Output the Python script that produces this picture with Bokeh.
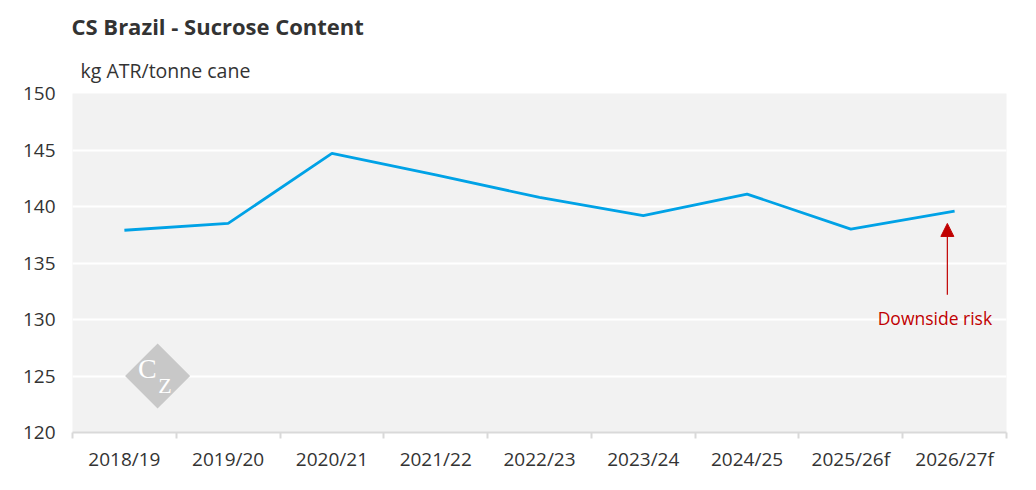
import math
from bokeh.plotting import figure
from bokeh.models import (FactorRange, Range1d, LinearAxis, FixedTicker, Title,
                          Arrow, NormalHead, Label, ColumnDataSource)
from bokeh.embed import file_html
from bokeh.resources import INLINE

categories = ["2018/19", "2019/20", "2020/21", "2021/22", "2022/23",
              "2023/24", "2024/25", "2025/26f", "2026/27f"]
atr_values = [137.9, 138.5, 144.7, 142.8, 140.8, 139.2, 141.1, 138.0, 139.6]
y_ticks = [120, 125, 130, 135, 140, 145, 150]

TEXT = "#333333"
FONT = "Open Sans"

p = figure(width=1020, height=474, x_range=FactorRange(*categories, range_padding=0),
           y_range=Range1d(120, 150), output_backend="svg", toolbar_location=None,
           x_axis_location=None, title=None,
           min_border_left=72, min_border_right=14, min_border_top=93, min_border_bottom=42)
p.background_fill_color = "#f2f2f2"
p.border_fill_color = "white"
p.outline_line_color = None

# y axis
p.yaxis.ticker = FixedTicker(ticks=y_ticks)
p.yaxis.axis_line_color = None
p.yaxis.major_tick_line_color = None
p.yaxis.minor_tick_line_color = None
p.yaxis.major_tick_out = 0
p.yaxis.major_tick_in = 0
p.yaxis.major_label_standoff = 17
p.yaxis.major_label_text_font = FONT
p.yaxis.major_label_text_font_size = "19px"
p.yaxis.major_label_text_color = TEXT

p.xgrid.grid_line_color = None
p.ygrid.grid_line_color = "white"
p.ygrid.grid_line_width = 2

# x axis: labels at category centres, ticks at category boundaries
n = len(categories)
xaxis = LinearAxis(ticker=FixedTicker(ticks=[i + 0.5 for i in range(n)],
                                      minor_ticks=list(range(n + 1))),
                   major_label_overrides={i + 0.5: c for i, c in enumerate(categories)},
                   axis_line_color="#d9d9d9", axis_line_width=2,
                   major_tick_line_color=None, major_tick_out=0, major_tick_in=0,
                   minor_tick_line_color="#d9d9d9", minor_tick_line_width=2,
                   minor_tick_out=6, minor_tick_in=0,
                   major_label_standoff=7,
                   major_label_text_font=FONT, major_label_text_font_size="19px",
                   major_label_text_color=TEXT)
p.add_layout(xaxis, "below")

# titles
p.add_layout(Title(text="kg ATR/tonne cane", align="left", offset=8,
                   text_font=FONT, text_font_size="19.5px", text_font_style="normal",
                   text_color=TEXT, standoff=20), "above")
p.add_layout(Title(text="CS Brazil - Sucrose Content", align="left", offset=-1,
                   text_font=FONT, text_font_size="22px", text_font_style="bold",
                   text_color=TEXT, standoff=7), "above")

# logo
p.scatter(x=[0.82], y=[125], marker="square", size=46, angle=math.pi / 4,
          fill_color="#c8c8c8", line_color=None)
p.add_layout(Label(x=0.72, y=125.7, text="C", text_font="Liberation Serif",
                   text_font_size="28px", text_color="white",
                   text_align="center", text_baseline="middle"))
p.add_layout(Label(x=0.89, y=124.2, text="Z", text_font="Liberation Serif",
                   text_font_size="22px", text_color="white",
                   text_align="center", text_baseline="middle"))

# data line
src = ColumnDataSource(dict(x=categories, y=atr_values))
p.line(x="x", y="y", source=src, line_color="#00a2e6", line_width=2.8)

# annotation
RED = "#c00000"
p.add_layout(Arrow(x_start=8.43, y_start=132.2, x_end=8.43, y_end=138.5,
                   line_color=RED, line_width=1.2,
                   end=NormalHead(size=13, fill_color=RED, line_color=RED)))
p.add_layout(Label(x=8.31, y=130.15, text="Downside risk", text_font=FONT,
                   text_font_size="17.5px", text_color=RED,
                   text_align="center", text_baseline="middle"))

open("out.html", "w").write(file_html(p, INLINE))
